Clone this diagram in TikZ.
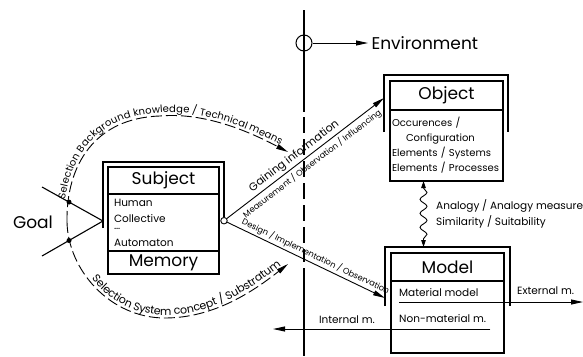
\documentclass[tikz,border=0pt]{standalone}
\usepackage{fontspec}
\setmainfont{Poppins}
\usetikzlibrary{arrows.meta,positioning,decorations.text,decorations.pathmorphing}

\newcommand{\arcfont}{\fontsize{10}{11}\selectfont}
\newcommand{\arcfontb}{\fontsize{11}{12}\selectfont}

\tikzset{
  frame/.style={line width=1.3pt},
  head/.style={draw, line width=1.1pt, outer sep=0pt, inner sep=0pt, minimum width=113pt, font=\fontsize{17}{17}\selectfont},
  body/.style={draw, line width=1.1pt, outer sep=0pt, inner xsep=2pt, inner ysep=0pt, text width=109pt, align=left, font=\fontsize{10}{15}\selectfont},
  item/.style={inner sep=2pt, font=\fontsize{10.5}{16}\selectfont},
  big/.style={font=\fontsize{17}{17}\selectfont},
  link/.style={line width=0.9pt, -{Triangle[length=12pt,width=5pt]}},
  sel/.style={line width=0.9pt, dash pattern=on 11pt off 4pt, -{Triangle[length=12pt,width=5pt]}},
  hub/.style={circle, draw, line width=0.9pt, fill=white, inner sep=0pt, minimum size=6.5pt},
  dot/.style={circle, fill, inner sep=0pt, minimum size=5pt},
}

\begin{document}
\begin{tikzpicture}[x=1pt,y=-1pt]
\useasboundingbox (0,0) rectangle (583,356);

% boundary to the environment
\draw[line width=1.2pt] (304,10) -- (304,112);
\draw[line width=1.2pt, dash pattern=on 16pt off 6pt] (304,117) -- (304,262);
\draw[line width=1.2pt] (304,268) -- (304,356);
\node[circle, draw, line width=1pt, minimum size=16pt, inner sep=0pt] (env) at (304,43) {};
\node[big, anchor=west] (env-lab) at (368,43) {Environment};
\draw[link] (env) -- (env-lab);

% object
\node[head] (obj) at (446.5,95.5) [minimum height=29pt] {Object};
\node[body, below=0pt of obj, minimum height=71pt] (obj-body)
  {Occurences /\\\hspace*{14pt}Configuration\\Elements / Systems\\Elements / Processes};
\draw[frame] ([xshift=-6pt,yshift=-22pt]obj.south west) |- ([xshift=5pt,yshift=6pt]obj.north east)
  -- ([xshift=5pt,yshift=-22pt]obj.south east);

% model
\node[head] (mod) at (447.5,267) [minimum height=28pt] {Model};
\node[body, below=0pt of mod, minimum height=72pt] (mod-body) {};
\draw[frame] ([xshift=-6pt,yshift=-25pt]mod.south west) |- ([xshift=6pt,yshift=6pt]mod.north east)
  -- ([xshift=6pt,yshift=-25pt]mod.south east);
\node[item, anchor=west] (mat) at ([xshift=6pt,yshift=-12pt]mod-body.north west) {Material model};
\node[item, anchor=west] (nonmat) at ([xshift=6pt,yshift=-38pt]mod-body.north west) {Non-material m.};
\coordinate (ext) at (583,302);
\coordinate (int) at (273,329);
\draw[link] ([xshift=2pt]mat.west |- ext) -- (ext);
\draw[link] ([xshift=2pt]nonmat.east |- int) -- (int);
\node[item, anchor=west] (ext-lab) at (515,291) {External m.};
\node[item, anchor=east] (int-lab) at (377,320) {Internal m.};

% analogy
\draw[line width=0.9pt, {Triangle[length=7pt,width=4.5pt]}-{Triangle[length=7pt,width=4.5pt]},
  decorate, decoration={snake, amplitude=3.5pt, segment length=14pt, pre length=7pt, post length=7pt}]
  ([xshift=-23pt]obj-body.south) -- ([xshift=-24pt,yshift=6pt]mod.north);
\node[item, anchor=west, align=left] (ana) at (434,214) {Analogy / Analogy measure\\Similarity / Suitability};

% subject
\node[head, minimum width=111pt] (subj) at (163.5,180.5) [minimum height=27pt] {Subject};
\node[body, below=0pt of subj, minimum height=57pt, text width=99pt, inner xsep=6pt,
  font=\fontsize{10.5}{16}\selectfont] (subj-list)
  {Human\\Collective\\[-9pt]\dots\\[1pt]Automaton};
\node[head, below=0pt of subj-list, minimum width=111pt, minimum height=23pt] (mem) {Memory};
\draw[frame] ([xshift=-5pt,yshift=-34pt]subj.south west) |- ([xshift=5pt,yshift=5pt]subj.north east)
  -- ([xshift=5pt,yshift=-23pt]subj.south east) node[hub, anchor=north] (hub) {};

% goal
\node[big] (goal) at (33,222) {Goal};
\coordinate (goal-tip) at ([xshift=-5pt,yshift=-27pt]subj.south west);
\coordinate (goal-up) at (42,187);
\coordinate (goal-dn) at (42,256);
\draw[line width=1.1pt] (goal-up) -- (goal-tip) -- (goal-dn);
\path (goal-tip) -- (goal-up) node[dot, pos=0.557] {};
\path (goal-tip) -- (goal-dn) node[dot, pos=0.557] {};

% selection arcs
\coordinate (sel-mid) at (67,222);
\coordinate (sel-a) at (288,152);
\coordinate (sel-b) at (288,264);
\draw[sel] (sel-mid) .. controls (66,165) and (95,118) .. (160,116)
  .. controls (205,112) and (250,132) .. (sel-a);
\path[decorate, decoration={text along path, raise=3pt, text align={left indent=22pt},
  text={|\arcfont|Selection Background knowledge / Technical means}}]
  (sel-mid) .. controls (66,165) and (95,118) .. (160,116)
  .. controls (205,112) and (250,132) .. (sel-a);
\draw[sel] (sel-mid) .. controls (68,270) and (110,318) .. (165,318)
  .. controls (215,318) and (255,290) .. (sel-b);
\path[decorate, decoration={text along path, raise=3pt, text align={left indent=64pt},
  text={|\arcfontb|Selection System concept / Substratum}}]
  (sel-mid) .. controls (68,270) and (110,318) .. (165,318)
  .. controls (215,318) and (255,290) .. (sel-b);

% information and design
\coordinate (obj-in) at ([xshift=-6pt,yshift=12pt]obj.south west);
\coordinate (mod-in) at ([xshift=-6pt,yshift=-17pt]mod.south west);
\draw[link] (hub) -- (obj-in)
  node[pos=0.46, sloped, above, inner sep=2pt, font=\fontsize{11}{12}\selectfont] {Gaining information}
  node[pos=0.51, sloped, below, inner sep=3pt, font=\fontsize{8.3}{9}\selectfont] {Measurement / Observation / Influencing};
\draw[link] (hub) -- (mod-in)
  node[pos=0.54, sloped, above, inner sep=2pt, font=\fontsize{8.3}{9}\selectfont] {Design / Implementation / Observation};
\end{tikzpicture}
\end{document}
